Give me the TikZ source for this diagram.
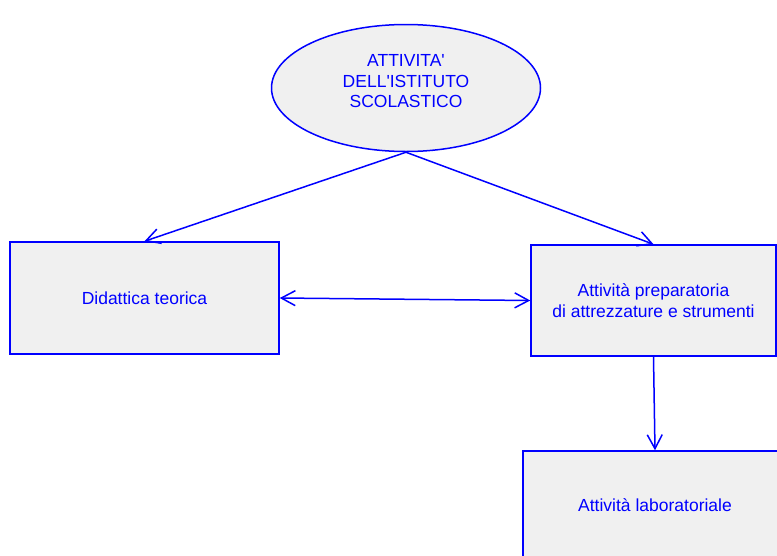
\documentclass[tikz,border=0pt]{standalone}
\usepackage{fontspec}
\setmainfont{Liberation Sans}
\usetikzlibrary{arrows.meta,shapes.geometric}
\definecolor{linea}{RGB}{0,0,255}
\definecolor{sfondo}{RGB}{240,240,240}
\tikzset{
  blocco/.style={draw=linea, fill=sfondo, line width=1.5pt, text=linea, inner sep=0pt, align=center,
    font=\fontsize{17.5}{20.8}\selectfont},
  freccia/.style={draw=linea, line width=1.5pt, -{Straight Barb[length=14pt,width=15pt]}},
  doppia/.style={draw=linea, line width=1.5pt, {Straight Barb[length=14pt,width=15pt]}-{Straight Barb[length=14pt,width=15pt]}}
}

\begin{document}
\begin{tikzpicture}[x=1pt,y=-1pt]
          \clip (0,0) rectangle (777,555);
          \fill[white] (0,0) rectangle (777,555);

          % blocchi
          \node[blocco, ellipse, minimum width=269pt, minimum height=127pt, text depth=14pt] (ente) at (406,88) {ATTIVITA\textquotesingle\\DELL\textquotesingle ISTITUTO\\SCOLASTICO};
          \node[blocco, minimum width=269pt, minimum height=112pt] (didattica) at (144.5,298) {Didattica teorica};
          \node[blocco, minimum width=245pt, minimum height=111pt] (preparatoria) at (653.5,300.5) {Attività preparatoria\\di attrezzature e strumenti};
          \node[blocco, minimum width=264pt, minimum height=108pt] (laboratorio) at (655,505) {Attività laboratoriale};

          % frecce
          \draw[freccia] (ente.south) -- (didattica.north);
          \draw[freccia] (ente.south) -- (preparatoria.north);
          \draw[doppia] (didattica.east) -- (preparatoria.west);
          \draw[freccia] (preparatoria.south) -- (laboratorio.north);
        \end{tikzpicture}
\end{document}
